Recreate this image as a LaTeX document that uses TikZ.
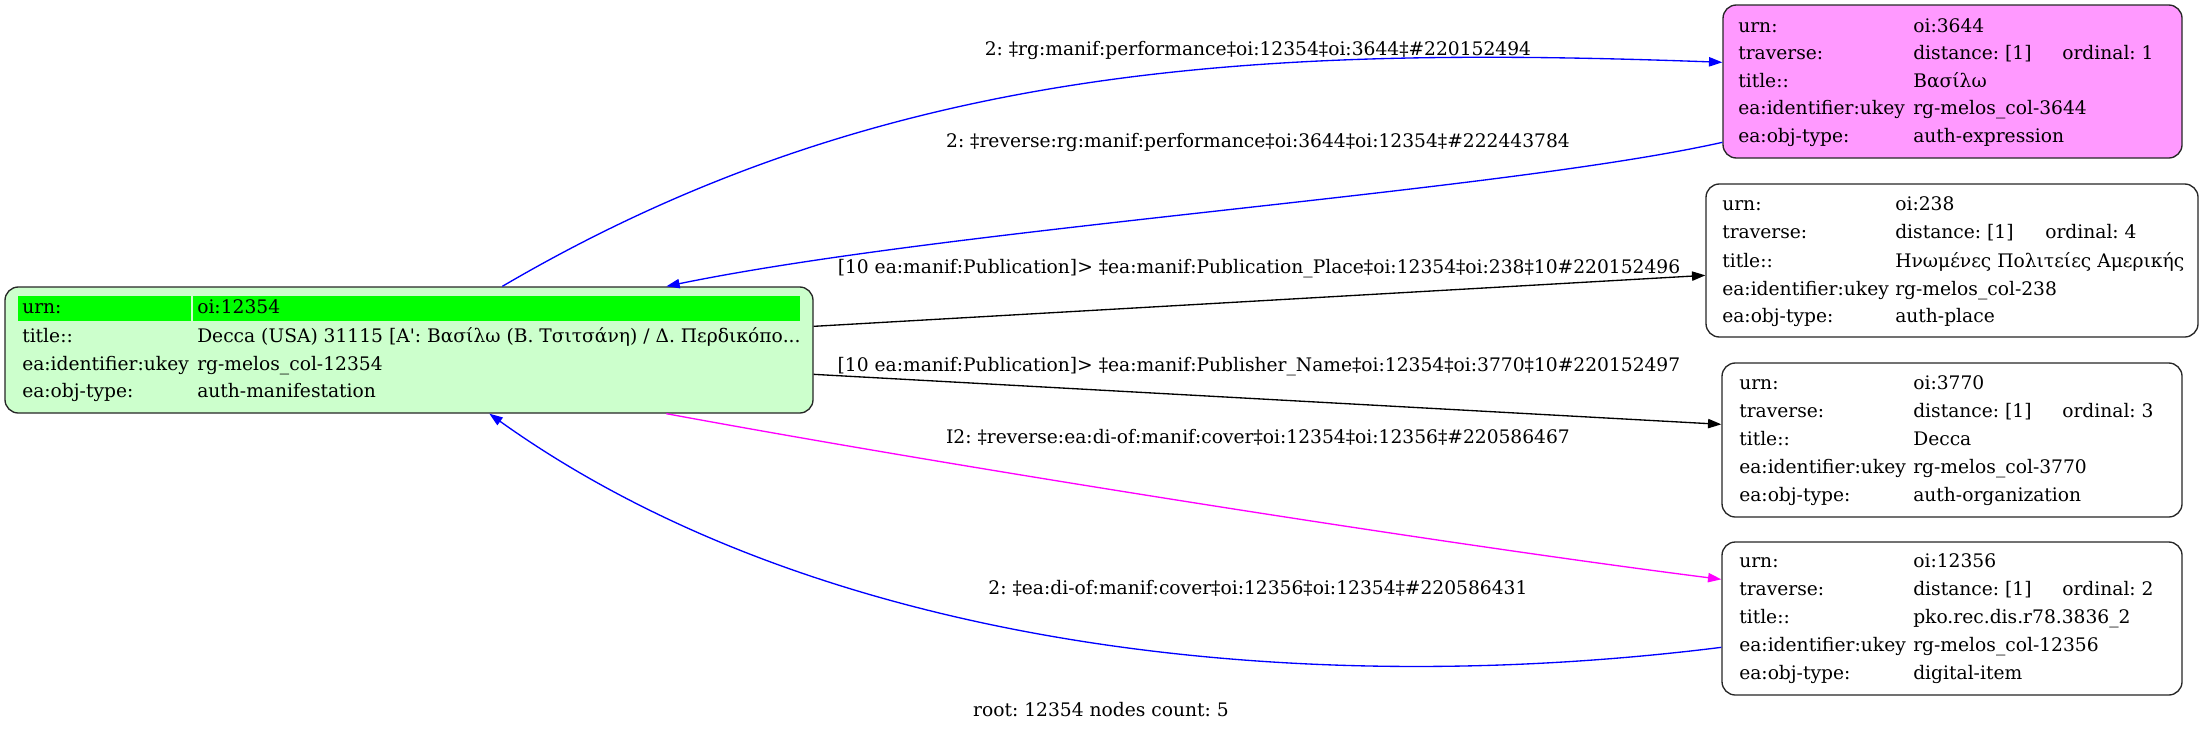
\documentclass[tikz,border=0pt]{standalone}
\usepackage{fontspec}
\setmainfont{DejaVu Serif}
\usetikzlibrary{arrows.meta,calc}
\definecolor{boxgreen}{RGB}{204,255,204}
\definecolor{hdrgreen}{RGB}{0,255,0}
\definecolor{boxpink}{RGB}{255,153,255}
\definecolor{edgeblue}{RGB}{0,0,255}
\definecolor{edgemag}{RGB}{255,0,255}
\frenchspacing
\begin{document}
\begin{tikzpicture}[x=0.75pt,y=-0.75pt,
  rowtxt/.style={anchor=base west,inner sep=0pt,font=\fontsize{14pt}{16pt}\selectfont},
  lbl/.style={anchor=base,inner sep=0pt,font=\fontsize{14pt}{16pt}\selectfont},
  recbox/.style 2 args={draw=black!85,line width=1pt,rounded corners=10pt,
    minimum width=#1*0.75pt,minimum height=#2*0.75pt,inner sep=0pt},
  conn/.style={line width=1pt,-{Triangle[length=10pt,width=7pt]}},
]
\useasboundingbox (0,0) rectangle (2204,732);

% ---------- boxes ----------
\node[recbox={808}{126},fill=boxgreen] (g) at (409,350) {};
\fill[hdrgreen] (18,296) rectangle (191,321);
\fill[hdrgreen] (193,296) rectangle (800,321);
\node[recbox={459}{153},fill=boxpink] (p) at (1952.5,81.5) {};
\node[recbox={492}{153},fill=white] (q) at (1952,260.5) {};
\node[recbox={460}{154},fill=white] (r) at (1952,440) {};
\node[recbox={460}{153},fill=white] (s) at (1952,618.5) {};

% ---------- green node rows ----------
\node[rowtxt] (g1a) at (22,313) {urn:};
\node[rowtxt] (g1b) at (197,313) {oi:12354};
\node[rowtxt] (g2a) at (22,342) {title::};
\node[rowtxt] (g2b) at (197,342) {Decca (USA) 31115 [Α\textquotesingle: Βασίλω (Β. Τσιτσάνη) / Δ. Περδικόπο...};
\node[rowtxt] (g3a) at (22,370) {ea:identifier:ukey};
\node[rowtxt] (g3b) at (197,370) {rg-melos\_col-12354};
\node[rowtxt] (g4a) at (22,397) {ea:obj-type:};
\node[rowtxt] (g4b) at (197,397) {auth-manifestation};

% ---------- 3644 ----------
\node[rowtxt] (p1a) at (1738,32) {urn:};
\node[rowtxt] (p1b) at (1913,32) {oi:3644};
\node[rowtxt] (p2a) at (1738,59) {traverse:};
\node[rowtxt] (p2b) at (1913,59) {distance: [1]};
\node[rowtxt] (p2c) at (2062,59) {ordinal: 1};
\node[rowtxt] (p3a) at (1738,87) {title::};
\node[rowtxt] (p3b) at (1913,87) {Βασίλω};
\node[rowtxt] (p4a) at (1738,114) {ea:identifier:ukey};
\node[rowtxt] (p4b) at (1913,114) {rg-melos\_col-3644};
\node[rowtxt] (p5a) at (1738,142) {ea:obj-type:};
\node[rowtxt] (p5b) at (1913,142) {auth-expression};

% ---------- 238 ----------
\node[rowtxt] (q1a) at (1722,210) {urn:};
\node[rowtxt] (q1b) at (1895,210) {oi:238};
\node[rowtxt] (q2a) at (1722,238) {traverse:};
\node[rowtxt] (q2b) at (1895,238) {distance: [1]};
\node[rowtxt] (q2c) at (2045,238) {ordinal: 4};
\node[rowtxt] (q3a) at (1722,267) {title::};
\node[rowtxt] (q3b) at (1895,267) {Ηνωμένες Πολιτείες Αμερικής};
\node[rowtxt] (q4a) at (1722,295) {ea:identifier:ukey};
\node[rowtxt] (q4b) at (1895,295) {rg-melos\_col-238};
\node[rowtxt] (q5a) at (1722,322) {ea:obj-type:};
\node[rowtxt] (q5b) at (1895,322) {auth-place};

% ---------- 3770 ----------
\node[rowtxt] (r1a) at (1739,389) {urn:};
\node[rowtxt] (r1b) at (1913,389) {oi:3770};
\node[rowtxt] (r2a) at (1739,417) {traverse:};
\node[rowtxt] (r2b) at (1913,417) {distance: [1]};
\node[rowtxt] (r2c) at (2062,417) {ordinal: 3};
\node[rowtxt] (r3a) at (1739,445) {title::};
\node[rowtxt] (r3b) at (1913,445) {Decca};
\node[rowtxt] (r4a) at (1739,473) {ea:identifier:ukey};
\node[rowtxt] (r4b) at (1913,473) {rg-melos\_col-3770};
\node[rowtxt] (r5a) at (1739,501) {ea:obj-type:};
\node[rowtxt] (r5b) at (1913,501) {auth-organization};

% ---------- 12356 ----------
\node[rowtxt] (s1a) at (1739,567) {urn:};
\node[rowtxt] (s1b) at (1913,567) {oi:12356};
\node[rowtxt] (s2a) at (1739,595) {traverse:};
\node[rowtxt] (s2b) at (1913,595) {distance: [1]};
\node[rowtxt] (s2c) at (2062,595) {ordinal: 2};
\node[rowtxt] (s3a) at (1739,623) {title::};
\node[rowtxt] (s3b) at (1913,623) {pko.rec.dis.r78.3836\_2};
\node[rowtxt] (s4a) at (1739,651) {ea:identifier:ukey};
\node[rowtxt] (s4b) at (1913,651) {rg-melos\_col-12356};
\node[rowtxt] (s5a) at (1739,679) {ea:obj-type:};
\node[rowtxt] (s5b) at (1913,679) {digital-item};

% ---------- edges ----------
\draw[conn,edgeblue] ($(g.north west)+(498,0)$) .. controls (880,65) and (1250,45) .. ($(p.north west)+(0,58)$);
\draw[conn,edgeblue] ($(p.north west)+(0,138)$) .. controls (1500,192) and (950,228) .. ($(g.north west)+(662,0)$);
\draw[conn,black] ($(g.north east)+(0,40)$) -- ($(q.north west)+(0,92)$);
\draw[conn,black] ($(g.north east)+(0,88)$) -- ($(r.north west)+(0,62)$);
\draw[conn,edgemag] ($(g.south west)+(662,0)$) .. controls (960,468) and (1450,545) .. ($(s.north west)+(0,38)$);
\draw[conn,edgeblue] ($(s.north west)+(0,106)$) .. controls (1300,700) and (820,650) .. ($(g.south west)+(485,0)$);

% ---------- edge labels ----------
\node[lbl] (l1) at (1258,55) {2: ‡rg:manif:performance‡oi:12354‡oi:3644‡\#220152494};
\node[lbl] (l2) at (1258,147) {2: ‡reverse:rg:manif:performance‡oi:3644‡oi:12354‡\#222443784};
\node[lbl] (l3) at (1259,273) {[10 ea:manif:Publication]> ‡ea:manif:Publication\_Place‡oi:12354‡oi:238‡10\#220152496};
\node[lbl] (l4) at (1259,371) {[10 ea:manif:Publication]> ‡ea:manif:Publisher\_Name‡oi:12354‡oi:3770‡10\#220152497};
\node[lbl] (l5) at (1258,443) {I2: ‡reverse:ea:di-of:manif:cover‡oi:12354‡oi:12356‡\#220586467};
\node[lbl] (l6) at (1258,594) {2: ‡ea:di-of:manif:cover‡oi:12356‡oi:12354‡\#220586431};
\node[lbl] (root) at (1101,716) {root: 12354 nodes count: 5};
\end{tikzpicture}
\end{document}
